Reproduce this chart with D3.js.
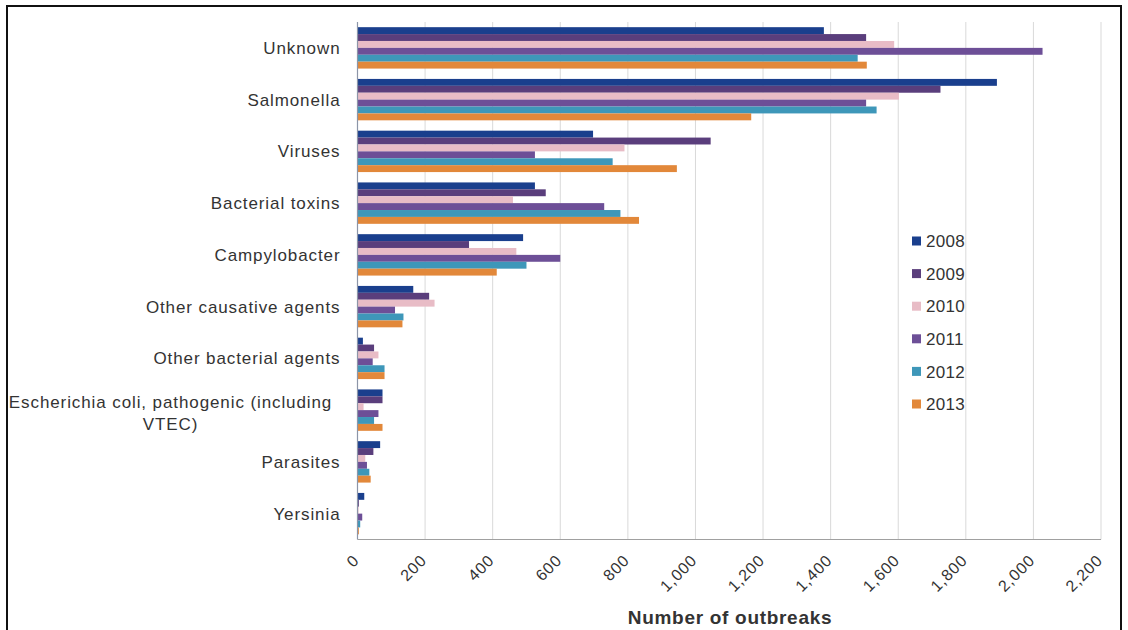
<!DOCTYPE html>
<html>
<head>
<meta charset="utf-8">
<script src="https://cdn.jsdelivr.net/npm/d3@7"></script>
<style>
  html, body { margin: 0; padding: 0; background: #fff; }
  svg { display: block; }
  text { font-family: "Liberation Sans", Arial, sans-serif; fill: #333; }
</style>
</head>
<body>
<svg id="chart" width="1128" height="630"></svg>
<script>
const categories = [
  "Unknown", "Salmonella", "Viruses", "Bacterial toxins", "Campylobacter",
  "Other causative agents", "Other bacterial agents",
  "Escherichia coli, pathogenic (including|VTEC)", "Parasites", "Yersinia"
];
const years = ["2008", "2009", "2010", "2011", "2012", "2013"];
const v2008 = [1380, 1892, 697, 525, 490, 165, 16, 74, 67, 20];
const v2009 = [1505, 1725, 1045, 557, 330, 212, 49, 74, 47, 4];
const v2010 = [1588, 1602, 790, 460, 470, 228, 62, 18, 23, 3];
const v2011 = [2027, 1505, 525, 730, 600, 111, 45, 62, 28, 14];
const v2012 = [1480, 1536, 755, 778, 500, 136, 80, 49, 35, 8];
const v2013 = [1507, 1165, 945, 833, 412, 133, 80, 74, 39, 4];
const seriesValues = [v2008, v2009, v2010, v2011, v2012, v2013];
const xTicks = [0, 200, 400, 600, 800, 1000, 1200, 1400, 1600, 1800, 2000, 2200];
const colors = ["#1a3f8d", "#5a3e7c", "#e8bcc6", "#6d4f97", "#3e97b9", "#e2883a"];

const svg = d3.select("#chart");
const mLeft = 357.5, mRight = 1101, mTop = 22, mBottom = 539.5;

const x = d3.scaleLinear().domain([0, 2200]).range([mLeft, mRight]);
const y = d3.scaleBand().domain(categories).range([mTop, mBottom]).paddingInner(0.2).paddingOuter(0.1);
const yy = d3.scaleBand().domain(years).range([0, y.bandwidth()]);

// frame
svg.append("rect").attr("x", 7).attr("y", 6).attr("width", 1114).attr("height", 640)
  .attr("fill", "none").attr("stroke", "#111").attr("stroke-width", 2);

// gridlines
svg.append("g").selectAll("line").data(xTicks.slice(1)).join("line")
  .attr("x1", d => x(d)).attr("x2", d => x(d)).attr("y1", mTop).attr("y2", mBottom)
  .attr("stroke", "#d9d9d9").attr("stroke-width", 1);

// bars
const groups = svg.append("g").selectAll("g").data(categories).join("g")
  .attr("transform", d => `translate(0,${y(d)})`);
groups.selectAll("rect")
  .data((c, i) => years.map((yr, j) => ({ yr, v: seriesValues[j][i], j })))
  .join("rect")
  .attr("x", x(0))
  .attr("y", d => yy(d.yr))
  .attr("width", d => x(d.v) - x(0))
  .attr("height", yy.bandwidth())
  .attr("fill", d => colors[d.j]);

// axes lines
svg.append("line").attr("x1", x(0)).attr("x2", x(0)).attr("y1", mTop).attr("y2", mBottom)
  .attr("stroke", "#8c95a8").attr("stroke-width", 1.2);
svg.append("line").attr("x1", x(0)).attr("x2", mRight).attr("y1", mBottom).attr("y2", mBottom)
  .attr("stroke", "#a0a0a0").attr("stroke-width", 1);

// x axis with d3
const xAxis = d3.axisBottom(x).tickValues(xTicks).tickSize(0).tickFormat(d3.format(","));
const gx = svg.append("g").attr("transform", `translate(0,${mBottom})`).call(xAxis);
gx.select(".domain").remove();
gx.selectAll("text")
  .attr("font-size", 16).attr("fill", "#444")
  .style("font-family", "'Liberation Sans', Arial, sans-serif")
  .style("letter-spacing", "0.8px")
  .attr("text-anchor", "end")
  .attr("dy", null).attr("y", null)
  .attr("transform", "translate(2,22) rotate(-45)");

// y axis labels with d3
const yAxis = d3.axisLeft(y).tickSize(0).tickFormat("");
const gy = svg.append("g").attr("transform", `translate(${mLeft},0)`).call(yAxis);
gy.select(".domain").remove();
gy.selectAll(".tick").each(function(d) {
  const lines = d.split("|");
  const t = d3.select(this).append("text")
    .attr("font-size", 17).attr("fill", "#333").style("letter-spacing", "0.9px");
  if (lines.length === 1) {
    t.attr("x", -17).attr("text-anchor", "end").attr("dy", "0.35em").text(d === "Salmonella" ? "Salmonella " : d);
  } else {
    t.attr("text-anchor", "middle");
    lines.forEach((ln, k) => {
      t.append("tspan").attr("x", -187).attr("dy", k === 0 ? "-0.15em" : "1.3em").text(ln);
    });
  }
});

// axis title
svg.append("text").attr("x", 730).attr("y", 624).attr("text-anchor", "middle")
  .attr("font-size", 19).attr("font-weight", "bold").attr("fill", "#222")
  .style("letter-spacing", "0.7px")
  .text("Number of outbreaks");

// legend
const lg = svg.append("g").selectAll("g").data(years).join("g")
  .attr("transform", (d, i) => `translate(912,${241 + i * 32.6})`);
lg.append("rect").attr("x", 0).attr("y", -4.5).attr("width", 9).attr("height", 9)
  .attr("fill", (d, i) => colors[i]);
lg.append("text").attr("x", 14).attr("dy", "0.36em").attr("font-size", 17).attr("fill", "#333")
  .style("letter-spacing", "0.3px").text(d => d);
</script>
</body>
</html>
